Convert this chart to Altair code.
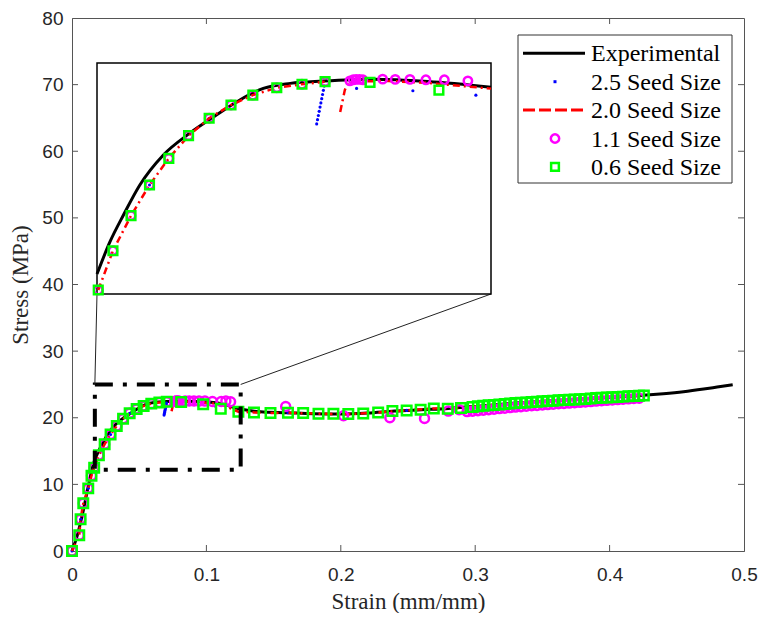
import altair as alt
import pandas as pd

# ---------------- data ----------------
exp_x = [0, 0.004, 0.008, 0.012, 0.0162, 0.0193, 0.0225, 0.0264, 0.0320, 0.0383, 0.0447,
         0.0502, 0.0558, 0.0622, 0.0700, 0.0819, 0.0950, 0.110, 0.125, 0.140, 0.160, 0.180,
         0.200, 0.220, 0.240, 0.260, 0.280, 0.300, 0.330, 0.360, 0.390, 0.4275, 0.440,
         0.455, 0.470, 0.480, 0.4916]
exp_y = [0, 2.4, 5.7, 9.6, 13.25, 14.79, 16.06, 17.49, 18.92, 19.96, 20.83,
         21.54, 22.09, 22.33, 22.44, 22.53, 22.42, 22.15, 21.3, 20.9, 20.75, 20.6,
         20.55, 20.7, 21.0, 21.2, 21.4, 21.7, 22.2, 22.6, 22.95, 23.4, 23.6,
         23.9, 24.3, 24.6, 24.95]

s25_x = [0, 0.0064, 0.0121, 0.0287, 0.0429, 0.0685, 0.0687, 0.0689, 0.0691, 0.0693, 0.0695,
         0.0697, 0.0699, 0.0701, 0.0703, 0.0780, 0.0914, 0.1064, 0.1607, 0.2056, 0.2490,
         0.2980, 0.3500, 0.4000]
s25_y = [0, 4.76, 9.4, 17.49, 20.67, 20.40, 20.60, 20.80, 21.00, 21.20, 21.40,
         21.60, 21.80, 22.00, 22.20, 22.09, 21.98, 21.77, 20.75, 20.55, 21.1,
         21.6, 22.46, 23.04]

s20_x = [0, 0.0054, 0.0064, 0.0084, 0.0121, 0.0145, 0.0165, 0.0200, 0.0243, 0.0287, 0.0333,
         0.0380, 0.0429, 0.0481, 0.0533, 0.0590, 0.0650, 0.0705,
         0.0741, 0.0752, 0.0760, 0.0850, 0.0950, 0.1100, 0.1238, 0.1354, 0.1477, 0.1607,
         0.1834, 0.2056, 0.2278, 0.2490, 0.2692, 0.2894, 0.3100, 0.3500, 0.3900, 0.4255]
s20_y = [0, 2.36, 4.76, 7.17, 9.4, 11.3, 12.49, 14.36, 16.03, 17.49, 18.76,
         19.84, 20.67, 21.30, 21.77, 22.12, 22.29, 22.41,
         20.97, 22.01, 22.40, 22.45, 22.35, 22.08, 20.9, 20.8, 20.7, 20.75,
         20.6, 20.55, 20.8, 21.1, 21.4, 21.45, 21.86, 22.46, 22.95, 23.35]
s20_seg = [1] * 18 + [2] * 20

s11_x = [0, 0.0054, 0.0064, 0.0084, 0.0121, 0.0145, 0.0165, 0.0200, 0.0243, 0.0287, 0.0333,
         0.0380, 0.0429, 0.0481, 0.0533, 0.0590, 0.0650, 0.0705, 0.0764, 0.0772, 0.0779,
         0.0787, 0.0795, 0.0842, 0.0872, 0.0907, 0.0945, 0.0989, 0.1045, 0.1110, 0.1145,
         0.1180, 0.1590, 0.2020, 0.2365, 0.2623, 0.2800, 0.2880,
         0.294, 0.298, 0.302, 0.306, 0.310, 0.314, 0.318, 0.322, 0.326, 0.330, 0.334,
         0.338, 0.342, 0.346, 0.350, 0.354, 0.358, 0.362, 0.366, 0.370, 0.374, 0.378,
         0.382, 0.386, 0.390, 0.394, 0.398, 0.402, 0.406, 0.410, 0.414, 0.418, 0.422]
s11_y = [0, 2.36, 4.76, 7.17, 9.4, 11.3, 12.49, 14.36, 16.03, 17.49, 18.76,
         19.84, 20.67, 21.30, 21.77, 22.12, 22.29, 22.41, 22.45, 22.50, 22.52,
         22.52, 22.50, 22.53, 22.52, 22.52, 22.50, 22.50, 22.45, 22.45, 22.5,
         22.4, 21.7, 20.3, 20.0, 19.9, 21.0, 21.2,
         20.92, 20.99, 21.04, 21.14, 21.21, 21.29, 21.37, 21.44, 21.52, 21.60, 21.66,
         21.72, 21.79, 21.85, 21.91, 21.97, 22.03, 22.09, 22.14, 22.20, 22.25, 22.31,
         22.36, 22.42, 22.50, 22.55, 22.61, 22.66, 22.72, 22.77, 22.83, 22.88, 22.93]

s06_x = [0, 0.0054, 0.0064, 0.0084, 0.0121, 0.0145, 0.0165, 0.0200, 0.0243, 0.0287, 0.0333,
         0.0380, 0.0429, 0.0481, 0.0533, 0.0590, 0.0650, 0.0705, 0.0812, 0.0976, 0.1107,
         0.1238, 0.1354, 0.1477, 0.1607, 0.1720, 0.1834, 0.1945, 0.2056, 0.2167, 0.2278,
         0.2384, 0.2490, 0.2594, 0.2692, 0.2796, 0.2894, 0.2980,
         0.302, 0.306, 0.310, 0.314, 0.318, 0.322, 0.326, 0.330, 0.334, 0.338, 0.342,
         0.346, 0.350, 0.354, 0.358, 0.362, 0.366, 0.370, 0.374, 0.378, 0.382, 0.386,
         0.390, 0.394, 0.398, 0.402, 0.406, 0.410, 0.414, 0.418, 0.422, 0.4255]
s06_y = [0, 2.36, 4.76, 7.17, 9.4, 11.3, 12.49, 14.36, 16.03, 17.49, 18.76,
         19.84, 20.67, 21.30, 21.77, 22.12, 22.29, 22.41, 22.38, 22.01, 21.35,
         20.9, 20.8, 20.7, 20.75, 20.7, 20.6, 20.6, 20.55, 20.65, 20.8,
         21.0, 21.1, 21.2, 21.4, 21.35, 21.45, 21.6,
         21.72, 21.80, 21.86, 21.93, 22.00, 22.06, 22.13, 22.20, 22.25, 22.30, 22.36,
         22.41, 22.46, 22.51, 22.56, 22.61, 22.65, 22.70, 22.74, 22.79, 22.83, 22.88,
         22.95, 22.99, 23.04, 23.08, 23.13, 23.17, 23.22, 23.26, 23.30, 23.35]

x_ticks = [0, 0.1, 0.2, 0.3, 0.4, 0.5]
y_ticks = [0, 10, 20, 30, 40, 50, 60, 70, 80]
zoom_box = {"x0": [0.017], "x1": [0.1255], "y0": [12.2], "y1": [25.0]}
inset_x = [0.0162, 0.110]
inset_y = [12.3, 23.3]
legend_labels = ["Experimental", "2.5 Seed Size", "2.0 Seed Size", "1.1 Seed Size", "0.6 Seed Size"]

# ---------------- frames ----------------
def frame(xs, ys, **extra):
    d = {"x": xs, "y": ys, "i": list(range(len(xs)))}
    d.update(extra)
    return pd.DataFrame(d)

df_exp = frame(exp_x, exp_y)
df_25 = frame(s25_x, s25_y)
df_20 = frame(s20_x, s20_y, seg=s20_seg)
df_11 = frame(s11_x, s11_y)
df_06 = frame(s06_x, s06_y)
df_box = pd.DataFrame(zoom_box)
df_xt = pd.DataFrame({"t": x_ticks[1:-1]})
df_yt = pd.DataFrame({"t": y_ticks[1:-1]})
one = pd.DataFrame({"a": [0]})

W, H = 672, 533
BLACK, BLUE, RED, MAG, GREEN = "#000000", "#0000ff", "#ff0000", "#ff00ff", "#00ff00"

# ---------------- main axes ----------------
xs = alt.Scale(domain=[0, 0.5], nice=False, zero=False)
ys = alt.Scale(domain=[0, 80], nice=False, zero=False)
xaxis = alt.Axis(values=x_ticks, format="~g", title="Strain (mm/mm)", grid=False, tickSize=0,
                 domainColor="#555555", labelFont="Liberation Sans", labelFontSize=19,
                 labelColor="#262626", labelPadding=14, labelFlush=False,
                 titleFont="Liberation Serif", titleFontSize=23, titleFontWeight="normal",
                 titleColor="#262626", titlePadding=6)
yaxis = alt.Axis(values=y_ticks, title="Stress (MPa)", grid=False, tickSize=0,
                 domainColor="#555555", labelFont="Liberation Sans", labelFontSize=19,
                 labelColor="#262626", labelPadding=9, labelFlush=False,
                 titleFont="Liberation Serif", titleFontSize=23, titleFontWeight="normal",
                 titleColor="#262626", titlePadding=9)

def X(f="x"):
    return alt.X(f"{f}:Q", scale=xs, axis=xaxis)

def Y(f="y"):
    return alt.Y(f"{f}:Q", scale=ys, axis=yaxis)

m_exp = alt.Chart(df_exp).mark_line(color=BLACK, strokeWidth=3, interpolate="monotone").encode(
    x=X(), y=Y(), order="i:Q")
m_25 = alt.Chart(df_25).mark_circle(color=BLUE, size=10, opacity=1).encode(x=X(), y=Y())
m_20 = alt.Chart(df_20).mark_line(color=RED, strokeWidth=2.5, strokeDash=[8, 4, 2, 4]).encode(
    x=X(), y=Y(), detail="seg:N", order="i:Q")
m_11 = alt.Chart(df_11).mark_point(shape="circle", filled=False, color=MAG, strokeWidth=2.5,
                                   size=80, opacity=1).encode(x=X(), y=Y())
m_06 = alt.Chart(df_06).mark_point(shape="square", filled=False, color=GREEN, strokeWidth=2.5,
                                   size=90, opacity=1).encode(x=X(), y=Y())

m_box = alt.Chart(df_box).mark_rect(fill=None, stroke="black", strokeWidth=4,
                                    strokeDash=[18, 10, 4, 10]).encode(
    x=X("x0"), x2="x1:Q", y=Y("y0"), y2="y1:Q")
m_link1 = alt.Chart(df_box).mark_rule(color="#222222", strokeWidth=1).encode(
    x=X("x0"), y=Y("y1"), x2=alt.value(25), y2=alt.value(276))
m_link2 = alt.Chart(df_box).mark_rule(color="#222222", strokeWidth=1).encode(
    x=X("x1"), y=Y("y1"), x2=alt.value(419), y2=alt.value(276))

tk = dict(color="#555555", strokeWidth=1)
t_bot = alt.Chart(df_xt).mark_rule(**tk).encode(x=X("t"), y=alt.value(H), y2=alt.value(H - 6))
t_top = alt.Chart(df_xt).mark_rule(**tk).encode(x=X("t"), y=alt.value(0), y2=alt.value(6))
t_left = alt.Chart(df_yt).mark_rule(**tk).encode(y=Y("t"), x=alt.value(0), x2=alt.value(6))
t_right = alt.Chart(df_yt).mark_rule(**tk).encode(y=Y("t"), x=alt.value(W), x2=alt.value(W - 6))

# legend (drawn by hand, MATLAB style)
LX0, LX1, LY0, LY1 = 446, 660, 17, 165
leg_rows = [35.3 + k * 28.4 for k in range(5)]
leg = [alt.Chart(one).mark_rect(fill="white", stroke="#333333", strokeWidth=1).encode(
    x=alt.value(LX0), x2=alt.value(LX1), y=alt.value(LY0), y2=alt.value(LY1))]
for k, lab in enumerate(legend_labels):
    leg.append(alt.Chart(one).mark_text(text=lab, font="Liberation Serif", fontSize=24,
                                        align="left", baseline="middle", color="black").encode(
        x=alt.value(519), y=alt.value(leg_rows[k] + 1)))
leg.append(alt.Chart(one).mark_rule(color=BLACK, strokeWidth=3).encode(
    x=alt.value(451), x2=alt.value(513), y=alt.value(leg_rows[0])))
leg.append(alt.Chart(one).mark_square(color=BLUE, size=9, opacity=1).encode(
    x=alt.value(483), y=alt.value(leg_rows[1])))
leg.append(alt.Chart(one).mark_rule(color=RED, strokeWidth=3, strokeDash=[12, 4]).encode(
    x=alt.value(451), x2=alt.value(513), y=alt.value(leg_rows[2])))
leg.append(alt.Chart(one).mark_point(shape="circle", filled=False, color=MAG, strokeWidth=2.5,
                                     size=70, opacity=1).encode(x=alt.value(483), y=alt.value(leg_rows[3])))
leg.append(alt.Chart(one).mark_point(shape="square", filled=False, color=GREEN, strokeWidth=2.5,
                                     size=60, opacity=1).encode(x=alt.value(483), y=alt.value(leg_rows[4])))

inset_bg = alt.Chart(one).mark_rect(fill="white", stroke="black", strokeWidth=1.5).encode(
    x=alt.value(25), x2=alt.value(419), y=alt.value(45), y2=alt.value(276))

main = alt.layer(m_exp, m_25, m_20, m_11, m_06, m_box, m_link1, m_link2,
                 t_bot, t_top, t_left, t_right, inset_bg, *leg)

# ---------------- inset (zoomed view of the same series) ----------------
ixs = alt.Scale(domain=inset_x, range=[25, 419], nice=False, zero=False)
iys = alt.Scale(domain=inset_y, range=[276, 45], nice=False, zero=False)
flt = (f"datum.x >= {inset_x[0]} && datum.x <= {inset_x[1]} && "
       f"datum.y >= {inset_y[0]} && datum.y <= {inset_y[1]}")
IX = alt.X("x:Q", scale=ixs, axis=None)
IY = alt.Y("y:Q", scale=iys, axis=None)

i_exp = alt.Chart(df_exp).transform_filter(flt).mark_line(
    color=BLACK, strokeWidth=3, interpolate="monotone").encode(x=IX, y=IY, order="i:Q")
i_25 = alt.Chart(df_25).transform_filter(flt).mark_circle(color=BLUE, size=10, opacity=1).encode(x=IX, y=IY)
i_20 = alt.Chart(df_20).transform_filter(flt).mark_line(color=RED, strokeWidth=2.5,
                                                        strokeDash=[7, 4, 2, 4]).encode(
    x=IX, y=IY, detail="seg:N", order="i:Q")
i_11 = alt.Chart(df_11).transform_filter(flt).mark_point(shape="circle", filled=False, color=MAG,
                                                         strokeWidth=2.5, size=70, opacity=1).encode(x=IX, y=IY)
i_06 = alt.Chart(df_06).transform_filter(flt).mark_point(shape="square", filled=False, color=GREEN,
                                                         strokeWidth=2.5, size=75, opacity=1).encode(x=IX, y=IY)

inset = alt.layer(i_exp, i_25, i_20, i_11, i_06)

chart = alt.layer(main, inset).resolve_scale(x="independent", y="independent").properties(
    width=W, height=H,
    padding={"left": 64, "top": 10, "right": 14, "bottom": 62},
    autosize=alt.AutoSizeParams(type="none"),
    background="white",
).configure_view(stroke="#555555", strokeWidth=1)

chart.save("out.html", embed_options={"renderer": "svg", "actions": False})
